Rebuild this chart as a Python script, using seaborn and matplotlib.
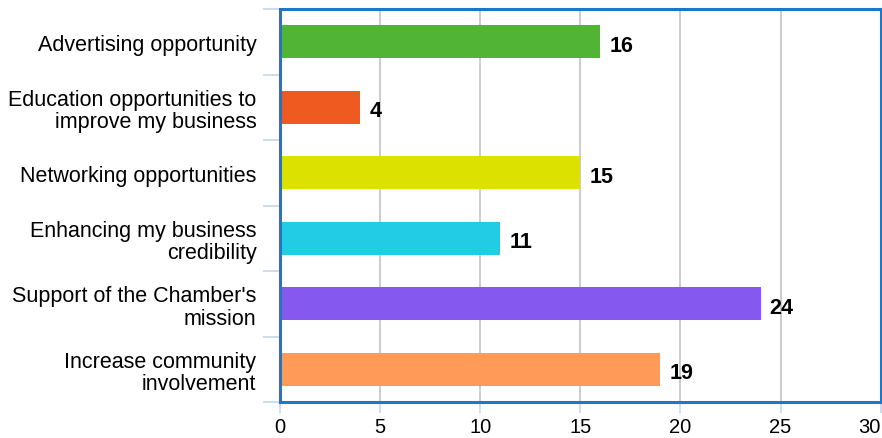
import numpy as np
import pandas as pd
import matplotlib
matplotlib.use("Agg")
import matplotlib.pyplot as plt
import seaborn as sns

categories = [
    "Advertising opportunity",
    "Education opportunities to\nimprove my business",
    "Networking opportunities",
    "Enhancing my business\ncredibility",
    "Support of the Chamber's\nmission",
    "Increase community\ninvolvement",
]
counts = [16, 4, 15, 11, 24, 19]
colors = ["#52b435", "#ee5a1f", "#dde100", "#22cce4", "#8558f0", "#ff9a58"]
x_ticks = [0, 5, 10, 15, 20, 25, 30]

df = pd.DataFrame({"category": categories, "count": counts})

sns.set_theme(style="white")
plt.rcParams["font.family"] = ["Liberation Sans", "DejaVu Sans"]

fig = plt.figure(figsize=(8.82, 4.39), dpi=100)
ax = fig.add_axes([0.3175, 0.082, 0.681, 0.895])

sns.barplot(data=df, x="count", y="category", hue="category", palette=colors,
            legend=False, width=0.5, orient="h", ax=ax, saturation=1,
            edgecolor="none")

ax.set_xlim(0, 30)
ax.set_ylim(len(categories) - 0.5, -0.5)
ax.set_xticks(x_ticks)
ax.set_xticklabels([str(t) for t in x_ticks], fontsize=14.5, color="#000000")
# keep the last tick label inside the figure edge
ax.get_xticklabels()[-1].set_horizontalalignment("right")
ax.set_xlabel("")
ax.set_ylabel("")
ax.set_yticks(range(len(categories)))
ax.set_yticklabels(categories, fontsize=15.5, color="#000000", linespacing=1.1)

# grid
ax.xaxis.grid(True, color="#c8c8c8", linewidth=1.3)
ax.set_axisbelow(True)

# category separator ticks on the y axis
ax.set_yticks(np.arange(-0.5, len(categories), 1.0), minor=True)
ax.tick_params(axis="y", which="major", left=True, length=0, pad=17)
ax.tick_params(axis="y", which="minor", left=True, length=12, width=1.2,
               color="#c5d6ea", direction="out")
ax.tick_params(axis="x", which="major", bottom=True, length=8, width=1.2,
               color="#c5d6ea", direction="out", pad=3)

for side in ["left", "right", "top", "bottom"]:
    ax.spines[side].set_visible(True)
    ax.spines[side].set_color("#1f77c9")
    ax.spines[side].set_linewidth(2.2)

# value labels
for i, v in enumerate(counts):
    ax.text(v + 0.45, i + 0.05, str(v), va="center", ha="left", fontsize=15.5,
            fontweight="bold", color="#000000")

fig.savefig("out.png", dpi=100, facecolor="white")
